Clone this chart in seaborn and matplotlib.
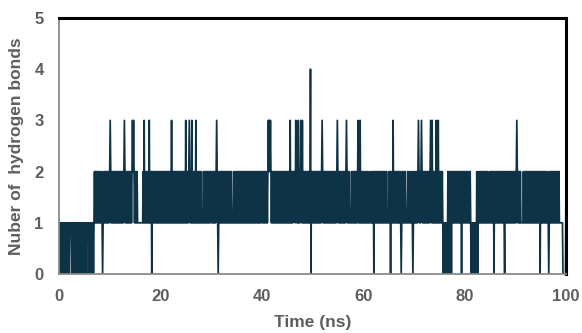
import matplotlib
matplotlib.use("Agg")
import matplotlib.pyplot as plt
import numpy as np
import pandas as pd
import seaborn as sns

# Hydrogen-bond count, one digit per 0.1 ns (10 ns per entry)
hbonds_0_10 = ("0101010101" "0101010101" "0111101010" "1010101010" "1010101010"
               "1010111101" "0101010101" "2121212121" "2121210121" "2121212121")
hbonds_10_20 = ("2321212121" "2121212121" "2121212123" "2121212121" "2121232321"
                "2121211111" "1111112131" "2121212131" "2120212121" "2121212121")
hbonds_20_30 = ("2121212121" "2121212121" "2131212121" "2121212121" "2121212121"
                "3121212321" "2131212121" "3121212121" "2111121212" "1212121212")
hbonds_30_40 = ("2121212121" "2321012121" "2121212121" "2121212121" "2111121212"
                "1212121212" "1212121212" "1212121212" "1212121212" "1212121212")
hbonds_40_50 = ("2121212121" "2123232321" "2121212121" "2121212121" "2121212121"
                "2121213121" "2122221321" "2131212321" "3121212121" "2121214021")
hbonds_50_60 = ("2121212121" "2121212123" "2121212121" "2121212121" "2121212123"
                "2121212121" "2121212321" "2121111212" "1212121212" "3121312121")
hbonds_60_70 = ("2121112121" "2111212121" "2021212121" "2121212121" "2121212111"
                "1212021213" "1212121212" "1212101212" "1212111121" "2111212101")
hbonds_70_80 = ("2121212123" "2121232121" "2121212121" "2123213121" "2121312131"
                "2121212101" "0101010202" "0202021212" "1212121212" "1212021212")
hbonds_80_90 = ("1212121212" "1210101010" "1010210212" "1212121212" "1212121112"
                "1212121202" "1212121212" "1212121210" "2121212121" "2121212121")
hbonds_90_100 = ("2123212121" "2111112121" "2121212121" "2121212121" "2121212120"
                 "2121212121" "2121210121" "2121212121" "2121212111" "1111000000" "2")

x_ticks = [0, 20, 40, 60, 80, 100]
y_ticks = [0, 1, 2, 3, 4, 5]

LINE = "#0e3246"
GREY_TXT = "#5e5e5e"

trace = "".join([hbonds_0_10, hbonds_10_20, hbonds_20_30, hbonds_30_40, hbonds_40_50,
                 hbonds_50_60, hbonds_60_70, hbonds_70_80, hbonds_80_90, hbonds_90_100])
values = np.array([int(c) for c in trace])
df = pd.DataFrame({"time": np.linspace(0, 100, len(values)), "hb": values})

sns.set_theme(style="white")
plt.rcParams["font.family"] = ["Liberation Sans", "DejaVu Sans"]

fig = plt.figure(figsize=(5.82, 3.33), dpi=100)
ax = fig.add_axes([59 / 582, 1 - 274 / 333, 507 / 582, 256 / 333])
sns.lineplot(data=df, x="time", y="hb", ax=ax, color=LINE, lw=1.25, estimator=None)

ax.set_xlim(0, 100)
ax.set_ylim(0, 5)
ax.set_xticks(x_ticks)
ax.set_yticks(y_ticks)
ax.tick_params(length=0, labelsize=12, labelcolor=GREY_TXT, pad=11)
for lab in ax.get_xticklabels() + ax.get_yticklabels():
    lab.set_fontweight("bold")

ax.set_xlabel("Time (ns)", fontsize=12.5, fontweight="bold", color=GREY_TXT)
ax.set_ylabel("Nuber of  hydrogen bonds", fontsize=12.5, fontweight="bold", color=GREY_TXT)
ax.xaxis.set_label_coords(0.5, -0.16)
ax.yaxis.set_label_coords(-0.07, 0.5)

for side in ["top", "right"]:
    ax.spines[side].set_color("black")
    ax.spines[side].set_linewidth(2.2)
for side in ["left", "bottom"]:
    ax.spines[side].set_color("#8a8a8a")
    ax.spines[side].set_linewidth(1.3)

fig.savefig("out.png", dpi=100)
